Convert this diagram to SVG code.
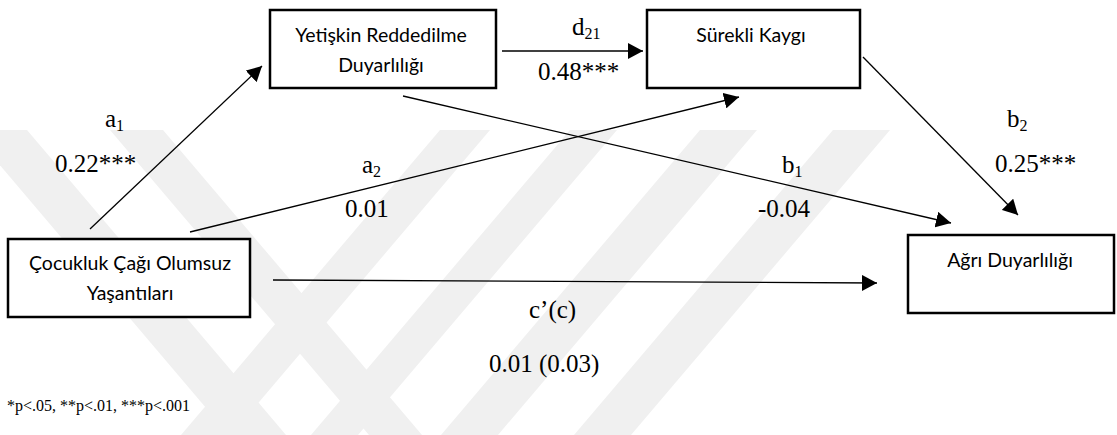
<svg xmlns="http://www.w3.org/2000/svg" width="1117" height="435" viewBox="0 0 1117 435">
  <defs>
    <marker id="ah" markerUnits="userSpaceOnUse" markerWidth="16" markerHeight="16" refX="15" refY="8" orient="auto">
      <path d="M0,0 L15,8 L0,16 z" fill="#000"/>
    </marker>
    <style>
      .box { fill: #fff; stroke: #000; stroke-width: 2.5; }
      .nt { font-family: Lato, "Open Sans", sans-serif; font-size: 19.5px; fill: #000; text-anchor: middle; }
      .lb { font-family: "Liberation Serif", "Times New Roman", serif; font-size: 25px; fill: #000; }
      .sub { font-size: 16px; }
      .fn { font-family: "Liberation Serif", "Times New Roman", serif; font-size: 16px; fill: #000; }
      .cn line { stroke: #000; stroke-width: 1.3; marker-end: url(#ah); }
      .wm { fill: #f0f0f0; }
    </style>
  </defs>
  <rect width="1117" height="435" fill="#fff"/>
  <g id="watermark" class="wm">
    <polygon points="-30,130 27,130 286,435 229,435"/>
    <polygon points="110,130 163,130 422,435 369,435"/>
    <polygon points="440,130 490,130 231,435 181,435"/>
    <polygon points="570,130 617,130 358,435 311,435"/>
    <polygon points="700,130 757,130 498,435 441,435"/>
    <polygon points="833,130 890,130 631,435 574,435"/>
  </g>
  <g id="connectors" class="cn">
    <line x1="90" y1="229" x2="262" y2="66"/>
    <line x1="190" y1="232" x2="739" y2="97"/>
    <line x1="502" y1="51" x2="643" y2="51"/>
    <line x1="403" y1="96" x2="951" y2="223"/>
    <line x1="863" y1="57" x2="1018" y2="215"/>
    <line x1="273" y1="280" x2="877" y2="283"/>
  </g>
  <g id="node-yetiskin">
    <rect class="box" x="270" y="10" width="226" height="78"/>
    <text class="nt" x="381" y="42">Yetişkin Reddedilme</text>
    <text class="nt" x="381" y="72">Duyarlılığı</text>
  </g>
  <g id="node-surekli">
    <rect class="box" x="647" y="10" width="213" height="78"/>
    <text class="nt" x="751" y="42">Sürekli Kaygı</text>
  </g>
  <g id="node-cocukluk">
    <rect class="box" x="8" y="239" width="242" height="78"/>
    <text class="nt" x="130" y="270">Çocukluk Çağı Olumsuz</text>
    <text class="nt" x="130" y="300">Yaşantıları</text>
  </g>
  <g id="node-agri">
    <rect class="box" x="908" y="235" width="206" height="78"/>
    <text class="nt" x="1010" y="267">Ağrı Duyarlılığı</text>
  </g>
  <g id="labels">
    <text class="lb" x="105" y="127">a<tspan class="sub" dy="4">1</tspan></text>
    <text class="lb" x="55" y="172">0.22***</text>
    <text class="lb" x="362" y="173">a<tspan class="sub" dy="4">2</tspan></text>
    <text class="lb" x="345" y="217">0.01</text>
    <text class="lb" x="572" y="35">d<tspan class="sub" dy="4">21</tspan></text>
    <text class="lb" x="538" y="80">0.48***</text>
    <text class="lb" x="782" y="173">b<tspan class="sub" dy="4">1</tspan></text>
    <text class="lb" x="758" y="217">-0.04</text>
    <text class="lb" x="1007" y="127">b<tspan class="sub" dy="4">2</tspan></text>
    <text class="lb" x="995" y="172">0.25***</text>
    <text class="lb" x="529" y="318">c’(c)</text>
    <text class="lb" x="489" y="372">0.01 (0.03)</text>
    <text class="fn" x="7" y="411">*p&lt;.05, **p&lt;.01, ***p&lt;.001</text>
  </g>
</svg>
